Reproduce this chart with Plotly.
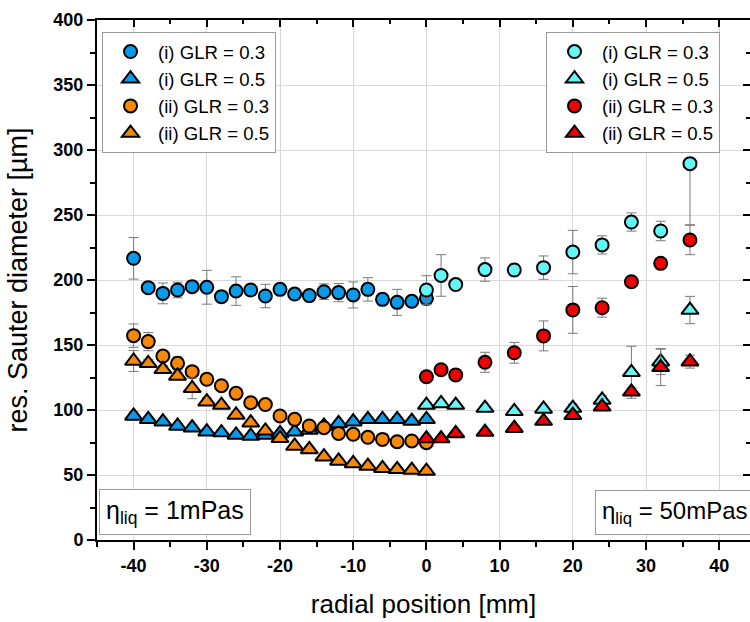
import plotly.graph_objects as go

# ---------------- data ----------------
x_left = [-40, -38, -36, -34, -32, -30, -28, -26, -24, -22, -20,
          -18, -16, -14, -12, -10, -8, -6, -4, -2, 0]
x_right = [0, 2, 4, 8, 12, 16, 20, 24, 28, 32, 36]

x_tickvals = [-40, -30, -20, -10, 0, 10, 20, 30, 40]
x_ticktext = ["-40", "-30", "-20", "-10", "0", "10", "20", "30", "40"]

# eta_liq = 1 mPas
i_glr03_1 = [216.7, 194.1, 189.7, 192.3, 194.9, 194.4, 187.2, 191.5, 192.3, 187.7, 192.8,
             189.2, 188.0, 191.0, 190.3, 188.5, 192.8, 185.1, 182.8, 183.6, 185.9]
i_glr03_1_err = [16, 3, 8, 6, 3, 13, 3, 11, 4, 9, 4, 3, 3, 6, 7, 10, 9, 4, 10, 3, 5]

i_glr05_1 = [95.4, 92.8, 91.0, 87.7, 86.4, 83.3, 82.6, 80.8, 80.0, 80.8, 82.0,
             83.3, 84.6, 87.7, 89.7, 91.0, 92.8, 92.8, 92.8, 91.5, 92.8]
i_glr05_1_err = [3, 2, 2, 2, 2, 2, 2, 2, 2, 2, 2, 2, 2, 2, 2, 2, 2, 2, 2, 2, 2]

ii_glr03_1 = [157.2, 152.6, 141.5, 135.9, 129.5, 123.6, 118.7, 112.8, 105.6, 104.2, 95.4,
              92.8, 87.7, 86.4, 82.0, 81.3, 79.0, 77.4, 75.6, 76.2, 74.9]
ii_glr03_1_err = [9, 7, 3, 5, 3, 3, 2, 2, 2, 2, 2, 2, 2, 2, 2, 2, 2, 2, 2, 2, 2]

ii_glr05_1 = [137.7, 135.9, 131.3, 126.2, 116.7, 106.4, 103.8, 96.2, 90.2, 84.0, 78.2,
              72.3, 69.7, 64.1, 60.8, 58.9, 56.9, 55.1, 54.4, 53.8, 53.0]
ii_glr05_1_err = [8, 3, 3, 3, 8, 3, 2, 2, 2, 2, 2, 2, 2, 2, 2, 2, 2, 2, 2, 2, 2]

# eta_liq = 50 mPas
i_glr03_50 = [192.3, 203.5, 196.5, 208.0, 207.7, 209.5, 221.5, 227.0, 244.6, 237.7, 289.5]
i_glr03_50_errp = [11, 16, 3, 9, 4.5, 9, 16.7, 7, 7, 7.5, 0]
i_glr03_50_errm = [11, 16, 3, 9, 4.5, 9, 16.7, 7, 7, 7.5, 47]

i_glr05_50 = [103.8, 105.0, 103.8, 101.5, 99.0, 100.8, 101.5, 107.7, 129.0, 137.2, 176.9]
i_glr05_50_err = [2, 2, 2, 2, 2, 2, 3, 3, 20, 10, 10.5]

ii_glr03_50 = [125.6, 131.0, 127.0, 136.7, 144.0, 157.0, 177.0, 178.7, 198.7, 212.8, 230.8]
ii_glr03_50_err = [3, 3, 3, 7.7, 8, 11.5, 18, 7.3, 3, 3, 11.3]

ii_glr05_50 = [78.0, 78.0, 82.0, 83.0, 86.0, 91.5, 96.0, 102.5, 114.0, 132.8, 137.2]
ii_glr05_50_err = [2, 2, 2, 2, 2, 2, 3, 3, 3, 14, 5]

# ---------------- style ----------------
BLUE = "#0A9AEA"
ORANGE = "#F7880A"
CYAN = "#62F6F6"
RED = "#F20000"
ERR = "#7a7a7a"
FONT = "Liberation Sans, Arial, sans-serif"

fig = go.Figure()


def add(x, y, name, color, symbol, legend, err=None, errp=None, errm=None):
    if err is not None:
        ey = dict(type="data", array=err, color=ERR, thickness=1, width=5)
    else:
        ey = dict(type="data", symmetric=False, array=errp, arrayminus=errm,
                  color=ERR, thickness=1, width=5)
    size = 13 if symbol == "circle" else 15
    fig.add_trace(go.Scatter(
        x=x, y=y, name=name, mode="markers", legend=legend,
        marker=dict(color=color, symbol=symbol, size=size,
                    line=dict(color="black", width=2)),
        error_y=ey,
    ))


add(x_left, i_glr03_1, "(i) GLR = 0.3", BLUE, "circle", "legend", err=i_glr03_1_err)
add(x_left, i_glr05_1, "(i) GLR = 0.5", BLUE, "triangle-up", "legend", err=i_glr05_1_err)
add(x_left, ii_glr03_1, "(ii) GLR = 0.3", ORANGE, "circle", "legend", err=ii_glr03_1_err)
add(x_left, ii_glr05_1, "(ii) GLR = 0.5", ORANGE, "triangle-up", "legend", err=ii_glr05_1_err)
add(x_right, i_glr03_50, "(i) GLR = 0.3", CYAN, "circle", "legend2",
    errp=i_glr03_50_errp, errm=i_glr03_50_errm)
add(x_right, i_glr05_50, "(i) GLR = 0.5", CYAN, "triangle-up", "legend2", err=i_glr05_50_err)
add(x_right, ii_glr03_50, "(ii) GLR = 0.3", RED, "circle", "legend2", err=ii_glr03_50_err)
add(x_right, ii_glr05_50, "(ii) GLR = 0.5", RED, "triangle-up", "legend2", err=ii_glr05_50_err)

# dummy trace for the mirrored (top/right) tick axes
fig.add_trace(go.Scatter(x=[None], y=[None], xaxis="x2", yaxis="y2",
                         showlegend=False, hoverinfo="skip"))

XR = [-45, 44.2]
YR = [0, 400]

legend_common = dict(
    bgcolor="white", bordercolor="#9a9a9a", borderwidth=1,
    font=dict(family=FONT, size=18.6, color="black"),
    itemwidth=45, xanchor="left", yanchor="top", traceorder="normal",
)

fig.update_layout(
    width=750, height=622,
    margin=dict(l=97, r=0, t=20, b=82, autoexpand=False),
    plot_bgcolor="white", paper_bgcolor="white",
    font=dict(family=FONT, color="black"),
    xaxis=dict(
        range=XR, tickmode="array", tickvals=x_tickvals, ticktext=x_ticktext,
        showgrid=True, gridcolor="#d8d8d8", gridwidth=1, automargin=False,
        zeroline=False, showline=True, linecolor="black", linewidth=2, mirror=True,
        ticks="outside", ticklen=8, tickwidth=1.5, tickcolor="black",
        minor=dict(dtick=5, tick0=0, ticks="outside", ticklen=5, tickwidth=1.5,
                   tickcolor="black", showgrid=False),
        tickfont=dict(family=FONT, size=18, weight="bold", color="black"),
        title=dict(text="radial position [mm]", font=dict(family=FONT, size=26, color="black"), standoff=20),
    ),
    yaxis=dict(
        range=YR, dtick=50, tick0=0, showgrid=True, gridcolor="#d8d8d8", gridwidth=1,
        automargin=False,
        zeroline=False, showline=True, linecolor="black", linewidth=2, mirror=True,
        ticks="outside", ticklen=8, tickwidth=1.5, tickcolor="black",
        minor=dict(dtick=25, ticks="outside", ticklen=5, tickwidth=1.5, tickcolor="black", showgrid=False),
        tickfont=dict(family=FONT, size=18, weight="bold", color="black"),
        title=dict(text="res. Sauter diameter [µm]", font=dict(family=FONT, size=27, color="black"), standoff=18),
    ),
    xaxis2=dict(
        range=XR, overlaying="x", side="top", anchor="y", dtick=10, tick0=0,
        showgrid=False, zeroline=False, showticklabels=False, showline=False, automargin=False,
        ticks="inside", ticklen=7, tickwidth=1.5, tickcolor="black",
        minor=dict(dtick=5, ticks="inside", ticklen=4, tickwidth=1.5, tickcolor="black", showgrid=False),
    ),
    yaxis2=dict(
        range=YR, overlaying="y", side="right", anchor="x", dtick=50, tick0=0,
        showgrid=False, zeroline=False, showticklabels=False, showline=False, automargin=False,
        ticks="inside", ticklen=7, tickwidth=1.5, tickcolor="black",
        minor=dict(dtick=25, ticks="inside", ticklen=4, tickwidth=1.5, tickcolor="black", showgrid=False),
    ),
    legend=dict(x=0.0077, y=0.977, **legend_common),
    legend2=dict(x=0.6876, y=0.977, **legend_common),
    showlegend=True,
)

fig.add_annotation(
    text="η<sub>liq</sub> = 1mPas", xref="paper", yref="paper",
    x=0.003, y=0.0096, xanchor="left", yanchor="bottom", showarrow=False,
    font=dict(family=FONT, size=25, color="black"),
    bgcolor="white", bordercolor="#9a9a9a", borderwidth=1, borderpad=6,
)
fig.add_annotation(
    text="η<sub>liq</sub> = 50mPas", xref="paper", yref="paper",
    x=1.008, y=0.0096, xanchor="right", yanchor="bottom", showarrow=False,
    font=dict(family=FONT, size=24, color="black"),
    bgcolor="white", bordercolor="#9a9a9a", borderwidth=1, borderpad=6,
)

fig.write_html(
    "out.html",
    config={"displayModeBar": False},
    post_script="document.body.style.margin='0';document.body.style.overflow='hidden';",
)
